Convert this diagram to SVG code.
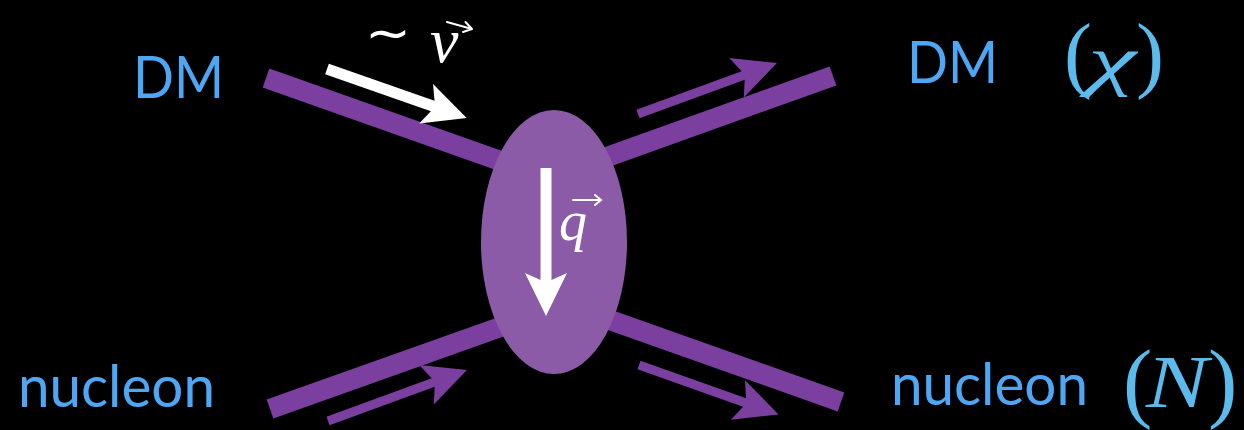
<svg xmlns="http://www.w3.org/2000/svg" width="1244" height="430" viewBox="0 0 1244 430">
<style>
.lbl{font-family:Lato,"Open Sans","Liberation Sans",sans-serif;fill:#4EA7F5;font-size:59px}
.math{font-family:"Liberation Serif","DejaVu Serif",serif;fill:#5BBBEC}
.it{font-style:italic}
.wm{font-family:"Liberation Serif","DejaVu Serif",serif;font-style:italic;fill:#fff}
.band{stroke:#7B3F9F;stroke-width:20;stroke-linecap:butt;fill:none}
.vec{stroke:#fff;stroke-width:2;fill:none;stroke-linecap:round}
</style>
<defs>
<path id="wArrow" d="M0,-5.5 L112,-5.5 L105,-21 L148,0 L105,21 L112,5.5 L0,5.5 Z" fill="#fff"/>
<path id="pArrow" d="M0,-4.5 L112,-4.5 L105,-21 L148,0 L105,21 L112,4.5 L0,4.5 Z" fill="#7B3F9F"/>
</defs>
<rect width="1244" height="430" fill="#000"/>
<g id="connectors">
<line class="band" x1="266" y1="78" x2="512" y2="165"/>
<line class="band" x1="270" y1="409" x2="512" y2="323"/>
<line class="band" x1="600" y1="159.5" x2="833" y2="76"/>
<line class="band" x1="600" y1="316.5" x2="841" y2="402"/>
<use href="#pArrow" transform="translate(638,114) rotate(-20.15)"/>
<use href="#pArrow" transform="translate(328,421) rotate(-20.15)"/>
<use href="#pArrow" transform="translate(639,365) rotate(19.5)"/>
<use href="#wArrow" transform="translate(327,69) rotate(19.3)"/>
</g>
<g id="vertex">
<ellipse cx="554" cy="242" rx="73" ry="132" fill="#8B5BA7"/>
<use href="#wArrow" transform="translate(546,168) rotate(90)"/>
<text class="wm" x="559" y="240" font-size="56">q</text>
<path class="vec" d="M573,200 L601,200 M595,195 L601,200 L595,205"/>
</g>
<g id="velocity-label">
<text y="50" fill="#fff"><tspan x="365" font-family="DejaVu Sans,sans-serif" font-size="50" textLength="46" lengthAdjust="spacingAndGlyphs">∼</tspan><tspan class="wm" x="430" y="62" font-size="64">v</tspan></text>
<path class="vec" d="M447,22 L472,29 M465.5,22 L472,29 M463,32 L472,29"/>
</g>
<g id="dm-in"><text class="lbl" x="133" y="98" textLength="91" lengthAdjust="spacingAndGlyphs">DM</text></g>
<g id="nucleon-in"><text class="lbl" x="18" y="407" textLength="197" lengthAdjust="spacingAndGlyphs">nucleon</text></g>
<g id="dm-out">
<text class="lbl" x="907" y="83" textLength="91" lengthAdjust="spacingAndGlyphs">DM</text>
<text class="math" y="82" font-size="84"><tspan x="1064">(</tspan><tspan class="it" x="1088" y="83" font-size="68" textLength="48" lengthAdjust="spacingAndGlyphs">χ</tspan><tspan x="1136" y="82">)</tspan></text>
</g>
<g id="nucleon-out">
<text class="lbl" x="891" y="405" textLength="197" lengthAdjust="spacingAndGlyphs">nucleon</text>
<text class="math" y="411" font-size="88"><tspan x="1123">(</tspan><tspan class="it" x="1146" y="407" font-size="74" textLength="62" lengthAdjust="spacingAndGlyphs">N</tspan><tspan x="1208" y="411">)</tspan></text>
</g>
</svg>
